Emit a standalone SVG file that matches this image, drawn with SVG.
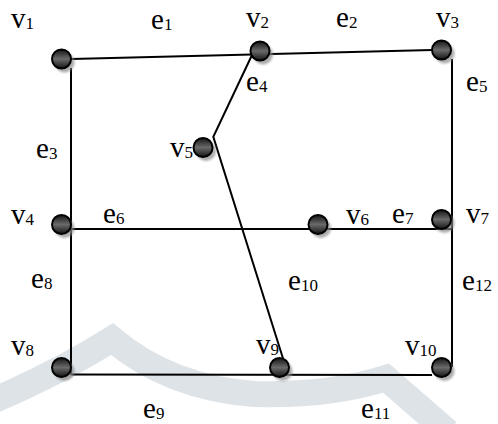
<svg xmlns="http://www.w3.org/2000/svg" width="498" height="424" viewBox="0 0 498 424">
  <style>
    .lbl { font-family: "Liberation Serif", "Times New Roman", serif; font-size: 29px; fill: #000; }
    .sub { font-size: 17px; }
    .edge { stroke: #000; stroke-width: 2; fill: none; }
    .dot { fill: url(#ball); stroke: #000; stroke-width: 2; }
    .shadow { fill: #8a8a8a; opacity: 0.7; filter: url(#blur); }
  </style>
  <defs>
    <linearGradient id="ball" x1="0" y1="0" x2="0" y2="1">
      <stop offset="0" stop-color="#151515"/>
      <stop offset="0.5" stop-color="#6a6a6a"/>
      <stop offset="1" stop-color="#151515"/>
    </linearGradient>
    <filter id="blur" x="-50%" y="-50%" width="200%" height="200%">
      <feGaussianBlur stdDeviation="1"/>
    </filter>
  </defs>
  <rect width="498" height="424" fill="#fff"/>
  <!-- watermark -->
  <path d="M -10,402 Q 60,372 112,339 Q 170,388 255,394 Q 330,396 386,378 L 448,432" fill="none" stroke="#dde3e7" stroke-width="26" stroke-linejoin="miter"/>

  <g id="connectors">
    <line class="edge" x1="71.5" y1="59" x2="432" y2="50"/>
    <line class="edge" x1="71" y1="68" x2="71" y2="375"/>
    <line class="edge" x1="452" y1="59" x2="452" y2="367"/>
    <line class="edge" x1="71" y1="229" x2="452" y2="229"/>
    <line class="edge" x1="71" y1="374.5" x2="432" y2="375"/>
    <polyline class="edge" points="252,55 213.3,136.7 283.5,360"/>
  </g>

  <g id="v1"><circle class="shadow" cx="64.5" cy="62.5" r="10"/><circle class="dot" cx="61.5" cy="59" r="9.5"/></g>
  <g id="v2"><circle class="shadow" cx="263" cy="54.5" r="10"/><circle class="dot" cx="260" cy="51" r="9.5"/></g>
  <g id="v3"><circle class="shadow" cx="444.5" cy="53.5" r="10"/><circle class="dot" cx="441.5" cy="50" r="9.5"/></g>
  <g id="v5"><circle class="shadow" cx="206" cy="151" r="10"/><circle class="dot" cx="203" cy="147.5" r="9.5"/></g>
  <g id="v4"><circle class="shadow" cx="64.5" cy="228" r="10"/><circle class="dot" cx="61.5" cy="224.5" r="9.5"/></g>
  <g id="v6"><circle class="shadow" cx="321" cy="228" r="10"/><circle class="dot" cx="318" cy="224.5" r="9.5"/></g>
  <g id="v7"><circle class="shadow" cx="444.5" cy="223" r="10"/><circle class="dot" cx="441.5" cy="219.5" r="9.5"/></g>
  <g id="v8"><circle class="shadow" cx="64.5" cy="371" r="10"/><circle class="dot" cx="61.5" cy="367.5" r="9.5"/></g>
  <g id="v9"><circle class="shadow" cx="282.5" cy="371" r="10"/><circle class="dot" cx="279.5" cy="367.5" r="9.5"/></g>
  <g id="v10"><circle class="shadow" cx="444.5" cy="371" r="10"/><circle class="dot" cx="441.5" cy="367.5" r="9.5"/></g>

  <g id="labels">
    <text class="lbl" x="11" y="28">v<tspan class="sub" dy="1">1</tspan></text>
    <text class="lbl" x="151" y="29">e<tspan class="sub" dy="1">1</tspan></text>
    <text class="lbl" x="246" y="27">v<tspan class="sub" dy="1">2</tspan></text>
    <text class="lbl" x="336" y="27">e<tspan class="sub" dy="1">2</tspan></text>
    <text class="lbl" x="436" y="27">v<tspan class="sub" dy="1">3</tspan></text>
    <text class="lbl" x="246" y="91">e<tspan class="sub" dy="1">4</tspan></text>
    <text class="lbl" x="466" y="91">e<tspan class="sub" dy="1">5</tspan></text>
    <text class="lbl" x="36" y="158">e<tspan class="sub" dy="1">3</tspan></text>
    <text class="lbl" x="170" y="157">v<tspan class="sub" dy="1">5</tspan></text>
    <text class="lbl" x="11" y="224">v<tspan class="sub" dy="1">4</tspan></text>
    <text class="lbl" x="103" y="223">e<tspan class="sub" dy="1">6</tspan></text>
    <text class="lbl" x="346" y="224">v<tspan class="sub" dy="1">6</tspan></text>
    <text class="lbl" x="392" y="223">e<tspan class="sub" dy="1">7</tspan></text>
    <text class="lbl" x="466" y="223">v<tspan class="sub" dy="1">7</tspan></text>
    <text class="lbl" x="31" y="288">e<tspan class="sub" dy="1">8</tspan></text>
    <text class="lbl" x="288" y="290">e<tspan class="sub" dy="1">10</tspan></text>
    <text class="lbl" x="462" y="290">e<tspan class="sub" dy="1">12</tspan></text>
    <text class="lbl" x="11" y="355">v<tspan class="sub" dy="1">8</tspan></text>
    <text class="lbl" x="256" y="354">v<tspan class="sub" dy="1">9</tspan></text>
    <text class="lbl" x="405" y="355">v<tspan class="sub" dy="1">10</tspan></text>
    <text class="lbl" x="143" y="418">e<tspan class="sub" dy="1">9</tspan></text>
    <text class="lbl" x="361" y="418">e<tspan class="sub" dy="1">11</tspan></text>
  </g>
</svg>
